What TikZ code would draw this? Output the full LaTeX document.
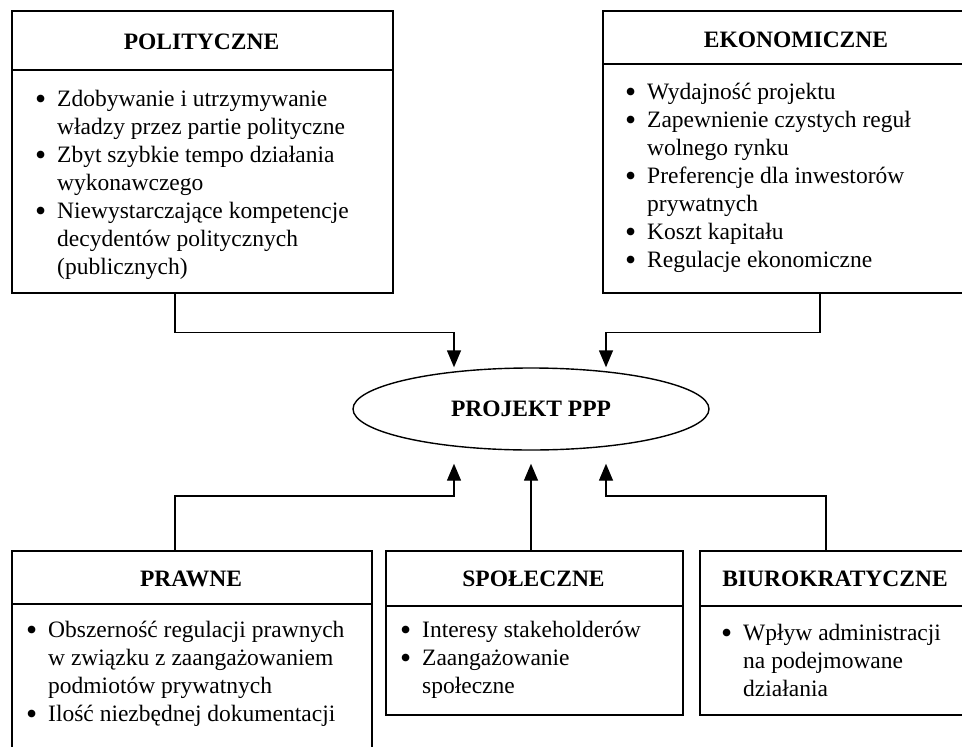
\documentclass[tikz,border=0pt]{standalone}
\usepackage{fontspec}
\setmainfont{Liberation Serif}
\usetikzlibrary{arrows.meta,shapes.geometric}
\newcommand\bodyf{\fontsize{23.5}{28}\selectfont}
\newcommand\headf{\fontsize{23.5}{28}\selectfont\bfseries}
\newcommand\bul{\llap{\raisebox{-3pt}{\scalebox{1.35}{\textbullet}}\hspace{11pt}}}
\newcommand\blist[1]{\begin{tabular}[t]{@{}l@{}}#1\end{tabular}}
\begin{document}
\begin{tikzpicture}[x=1pt,y=-1pt,
  box/.style={draw, line width=1.7pt, rectangle, inner sep=0pt, anchor=north west},
  txt/.style={anchor=base west, inner sep=0pt, font=\bodyf},
  head/.style={anchor=base, inner sep=0pt, font=\headf},
  arr/.style={line width=1.4pt, -{Triangle[length=17pt,width=14pt]}}]
\useasboundingbox (0,0) rectangle (962,747);
\fill[white] (0,0) rectangle (962,747);
\clip (0,0) rectangle (962,747);

% POLITYCZNE
\node[box, minimum width=381pt, minimum height=59pt] (polh) at (11,10) {};
\node[box, minimum width=381pt, minimum height=223pt] (polb) at (11,69) {};
\node[head] (polht) at (201.5,49) {POLITYCZNE};
\node[txt] (polt) at (57,106) {\blist{\bul Zdobywanie i utrzymywanie\\władzy przez partie polityczne\\\bul Zbyt szybkie tempo działania\\wykonawczego\\\bul Niewystarczające kompetencje\\decydentów politycznych\\(publicznych)}};

% EKONOMICZNE
\node[box, minimum width=388pt, minimum height=53pt] (ekoh) at (602,10) {};
\node[box, minimum width=388pt, minimum height=229pt] (ekob) at (602,63) {};
\node[head] (ekoht) at (796,47) {EKONOMICZNE};
\node[txt] (ekot) at (647,99) {\blist{\bul Wydajność projektu\\\bul Zapewnienie czystych reguł\\wolnego rynku\\\bul Preferencje dla inwestorów\\prywatnych\\\bul Koszt kapitału\\\bul Regulacje ekonomiczne}};

% PROJEKT PPP
\node[draw, ellipse, line width=1.4pt, minimum width=356pt, minimum height=82pt, inner sep=0pt, font=\headf] (proj) at (531,409) {PROJEKT PPP};

% PRAWNE
\node[box, minimum width=360pt, minimum height=53pt] (prah) at (11,550) {};
\node[box, minimum width=360pt, minimum height=170pt] (prab) at (11,603) {};
\node[head] (praht) at (191,586) {PRAWNE};
\node[txt] (prat) at (48,637) {\blist{\bul Obszerność regulacji prawnych\\w związku z zaangażowaniem\\podmiotów prywatnych\\\bul Ilość niezbędnej dokumentacji}};

% SPOLECZNE
\node[box, minimum width=297pt, minimum height=55pt] (spoh) at (385,550) {};
\node[box, minimum width=297pt, minimum height=109pt] (spob) at (385,605) {};
\node[head] (spoht) at (533.5,586) {SPOŁECZNE};
\node[txt] (spot) at (422,637) {\blist{\bul Interesy stakeholderów\\\bul Zaangażowanie\\społeczne}};

% BIUROKRATYCZNE
\node[box, minimum width=272pt, minimum height=55pt] (biuh) at (699,550) {};
\node[box, minimum width=272pt, minimum height=109pt] (biub) at (699,605) {};
\node[head] (biuht) at (835,586) {BIUROKRATYCZNE};
\node[txt] (biut) at (743,640) {\blist{\bul Wpływ administracji\\na podejmowane\\działania}};

% arrow end points
\coordinate (inL) at ([xshift=-77pt]proj.north);
\coordinate (inR) at ([xshift=75pt]proj.north);
\coordinate (pin) at ([yshift=-13pt]proj.south);
\coordinate (outL) at ([xshift=-77pt]pin);
\coordinate (outR) at ([xshift=75pt]pin);

% connectors
\draw[arr] ([xshift=164pt]polb.south west) -- ++(0,39) -| (inL);
\draw[arr] ([xshift=218pt]ekob.south west) -- ++(0,39) -| (inR);
\draw[arr] ([xshift=164pt]prah.north west) -- ++(0,-54) -| (outL);
\draw[arr] (spoh.north -| pin) -- (pin);
\draw[arr] ([xshift=127pt]biuh.north west) -- ++(0,-54) -| (outR);
\end{tikzpicture}
\end{document}
